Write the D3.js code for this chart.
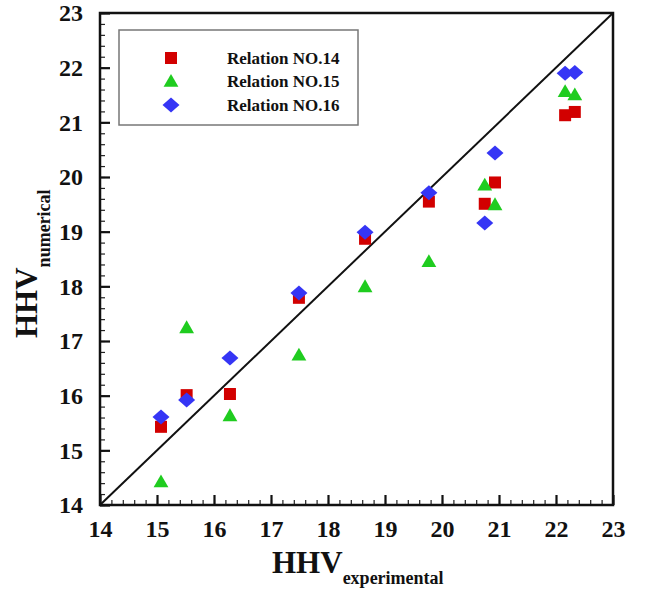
<!DOCTYPE html>
<html>
<head>
<meta charset="utf-8">
<script src="https://cdn.jsdelivr.net/npm/d3@7"></script>
<style>
  body { margin: 0; background: #fff; }
  svg text { font-family: "Liberation Serif", "Times New Roman", serif; font-weight: bold; fill: #111; }
</style>
</head>
<body>
<div id="chart"></div>
<script>
// experimental HHV (x) shared by the three relations
const experimental = [15.07, 15.52, 16.28, 17.49, 18.65, 19.77, 20.75, 20.93, 22.16, 22.33];
const relation14 = [15.43, 16.01, 16.03, 17.79, 18.87, 19.55, 19.51, 19.9, 21.13, 21.19];
const relation15 = [14.42, 17.24, 15.63, 16.74, 17.99, 18.45, 19.85, 19.49, 21.56, 21.5];
const relation16 = [15.61, 15.92, 16.69, 17.88, 18.99, 19.71, 19.16, 20.44, 21.9, 21.91];
const seriesNames = ["Relation NO.14", "Relation NO.15", "Relation NO.16"];
const tickValues = [14, 15, 16, 17, 18, 19, 20, 21, 22, 23];

const width = 652, height = 591;
const margin = { top: 13, right: 39, bottom: 86, left: 100 };

const svg = d3.select("#chart").append("svg")
  .attr("width", width)
  .attr("height", height);

const x = d3.scaleLinear().domain([14, 23]).range([margin.left, width - margin.right]);
const y = d3.scaleLinear().domain([14, 23]).range([height - margin.bottom, margin.top]);

const minorTicks = d3.range(14, 23.001, 0.2).map(v => +v.toFixed(1));

// minor ticks (inward)
svg.append("g")
  .attr("transform", `translate(0,${y(14)})`)
  .call(d3.axisBottom(x).tickValues(minorTicks).tickSize(-5).tickFormat(""))
  .call(g => g.select(".domain").remove())
  .call(g => g.selectAll("line").attr("stroke", "#222").attr("stroke-width", 1.2));
svg.append("g")
  .attr("transform", `translate(${x(14)},0)`)
  .call(d3.axisLeft(y).tickValues(minorTicks).tickSize(-5).tickFormat(""))
  .call(g => g.select(".domain").remove())
  .call(g => g.selectAll("line").attr("stroke", "#222").attr("stroke-width", 1.2));

// major ticks
svg.append("g")
  .attr("transform", `translate(0,${y(14)})`)
  .call(d3.axisBottom(x).tickValues(tickValues).tickSize(-10).tickPadding(15))
  .call(g => g.select(".domain").remove())
  .call(g => g.selectAll("line").attr("stroke", "#111").attr("stroke-width", 2.2))
  .call(g => g.selectAll("text").attr("font-size", 24).attr("font-family", null));
svg.append("g")
  .attr("transform", `translate(${x(14)},0)`)
  .call(d3.axisLeft(y).tickValues(tickValues).tickSize(-10).tickPadding(17))
  .call(g => g.select(".domain").remove())
  .call(g => g.selectAll("line").attr("stroke", "#111").attr("stroke-width", 2.2))
  .call(g => g.selectAll("text").attr("font-size", 24).attr("font-family", null));

// frame
svg.append("rect")
  .attr("x", x(14)).attr("y", y(23))
  .attr("width", x(23) - x(14)).attr("height", y(14) - y(23))
  .attr("fill", "none").attr("stroke", "#111").attr("stroke-width", 2.5);

// y = x line
svg.append("line")
  .attr("x1", x(14)).attr("y1", y(14))
  .attr("x2", x(23)).attr("y2", y(23))
  .attr("stroke", "#111").attr("stroke-width", 2);

const colors = ["#d20000", "#1fcc1f", "#3535f5"];
const shapes = [
  d3.symbol().type(d3.symbolSquare).size(144)(),
  d3.symbol().type(d3.symbolTriangle).size(95)(),
  d3.symbol().type(d3.symbolSquare).size(105)()
];
const shapeTransform = ["", "translate(0,1)", "rotate(45) scale(1.15,1.0)"];

function marker(g, i) {
  if (i === 2) {
    // diamond, a little wider than tall
    g.append("path")
      .attr("d", "M0,-7.5L8.5,0L0,7.5L-8.5,0Z")
      .attr("fill", colors[i]);
  } else {
    g.append("path")
      .attr("d", shapes[i])
      .attr("transform", shapeTransform[i])
      .attr("fill", colors[i]);
  }
}

const allSeries = [relation14, relation15, relation16];
allSeries.forEach((vals, i) => {
  const pts = svg.append("g").selectAll("g")
    .data(vals.map((v, k) => [experimental[k], v]))
    .join("g")
    .attr("transform", d => `translate(${x(d[0])},${y(d[1])})`);
  pts.each(function () { marker(d3.select(this), i); });
});

// legend
const legend = svg.append("g");
legend.append("rect")
  .attr("x", 119).attr("y", 30).attr("width", 239).attr("height", 95)
  .attr("fill", "#fff").attr("stroke", "#777").attr("stroke-width", 1.5);
seriesNames.forEach((name, i) => {
  const row = legend.append("g").attr("transform", `translate(171,${58 + i * 23.5})`);
  marker(row, i);
  row.append("text")
    .attr("x", 56).attr("dy", "0.35em")
    .attr("font-size", 17)
    .text(name);
});

// axis titles
const xt = svg.append("text")
  .attr("x", 272).attr("y", 573)
  .attr("font-size", 31);
xt.append("tspan").text("HHV");
xt.append("tspan").attr("dy", 11).attr("font-size", 18).text("experimental");

const yt = svg.append("text")
  .attr("transform", "translate(37,338) rotate(-90)")
  .attr("font-size", 31);
yt.append("tspan").text("HHV");
yt.append("tspan").attr("dy", 13).attr("font-size", 18).text("numerical");
</script>
</body>
</html>
